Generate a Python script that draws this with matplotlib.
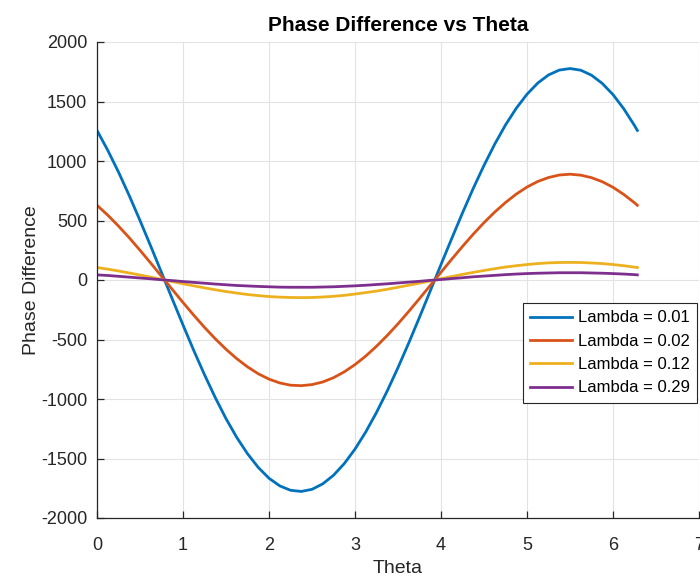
import matplotlib
matplotlib.use("Agg")
import matplotlib.pyplot as plt

plt.rcParams['font.family'] = ['Liberation Sans', 'DejaVu Sans']
plt.rcParams['axes.unicode_minus'] = False

theta = [0, 0.125, 0.25, 0.375, 0.5, 0.625, 0.75, 0.875, 1.0, 1.125, 1.25, 1.375,
         1.5, 1.625, 1.75, 1.875, 2.0, 2.125, 2.25, 2.375, 2.5, 2.625, 2.75, 2.875,
         3.0, 3.125, 3.25, 3.375, 3.5, 3.625, 3.75, 3.875, 4.0, 4.125, 4.25, 4.375,
         4.5, 4.625, 4.75, 4.875, 5.0, 5.125, 5.25, 5.375, 5.5, 5.625, 5.75, 5.875,
         6.0, 6.125, 6.25, 6.283]

lam_001 = [1257, 1090, 907, 709, 500, 284, 63, -159, -378, -592, -796, -988,
           -1165, -1323, -1460, -1575, -1666, -1730, -1767, -1777, -1759, -1713, -1641, -1543,
           -1421, -1277, -1113, -932, -736, -529, -313, -92, 130, 349, 564, 770,
           963, 1142, 1303, 1443, 1561, 1655, 1723, 1764, 1777, 1763, 1721, 1652,
           1558, 1439, 1298, 1257]
lam_002 = [628, 545, 453, 355, 250, 142, 31, -79, -189, -296, -398, -494,
           -582, -661, -730, -788, -833, -865, -884, -888, -879, -857, -821, -772,
           -711, -639, -557, -466, -368, -264, -156, -46, 65, 175, 282, 385,
           482, 571, 651, 722, 781, 828, 861, 882, 889, 881, 860, 826,
           779, 719, 649, 628]
lam_012 = [105, 91, 76, 59, 42, 24, 5, -13, -32, -49, -66, -82,
           -97, -110, -122, -131, -139, -144, -147, -148, -147, -143, -137, -129,
           -118, -106, -93, -78, -61, -44, -26, -8, 11, 29, 47, 64,
           80, 95, 109, 120, 130, 138, 144, 147, 148, 147, 143, 138,
           130, 120, 108, 105]
lam_029 = [43, 38, 31, 24, 17, 10, 2, -5, -13, -20, -27, -34,
           -40, -46, -50, -54, -57, -60, -61, -61, -61, -59, -57, -53,
           -49, -44, -38, -32, -25, -18, -11, -3, 4, 12, 19, 27,
           33, 39, 45, 50, 54, 57, 59, 61, 61, 61, 59, 57,
           54, 50, 45, 43]

series = [lam_001, lam_002, lam_012, lam_029]
labels = ['Lambda = 0.01', 'Lambda = 0.02', 'Lambda = 0.12', 'Lambda = 0.29']
colors = ['#0072BD', '#D95319', '#EDB120', '#7E2F8E']

xticks = [0, 1, 2, 3, 4, 5, 6, 7]
yticks = [-2000, -1500, -1000, -500, 0, 500, 1000, 1500, 2000]

fig = plt.figure(figsize=(7.0, 5.79), dpi=100)
ax = fig.add_axes([97/700, 61/579, 602/700, 476/579])

for ys, lab, c in zip(series, labels, colors):
    ax.plot(theta, ys, color=c, lw=2.0, label=lab)

ax.set_xlim(0, 7)
ax.set_ylim(-2000, 2000)
ax.set_xticks(xticks)
ax.set_yticks(yticks)
ax.grid(True, color='#e3e3e3', lw=0.8)
ax.set_axisbelow(True)
for s in ['top', 'right']:
    ax.spines[s].set_visible(False)
for s in ['left', 'bottom']:
    ax.spines[s].set_color('#262626')
    ax.spines[s].set_linewidth(0.9)
ax.tick_params(direction='in', length=5, width=0.9, colors='#262626', labelsize=13)
ax.tick_params(axis='x', pad=14)
ax.tick_params(axis='y', pad=7)

ax.set_xlabel('Theta', fontsize=14, color='#262626', labelpad=4)
ax.set_ylabel('Phase Difference', fontsize=14, color='#262626', labelpad=1)
ax.set_title('Phase Difference vs Theta', fontsize=15, fontweight='bold', pad=8)

leg = ax.legend(loc='upper right', bbox_to_anchor=(697/700, (579-303)/579),
                bbox_transform=fig.transFigure, fontsize=12, frameon=True,
                fancybox=False, handlelength=2.5, handletextpad=0.35,
                borderpad=0.45, labelspacing=0.5, borderaxespad=0)
leg.get_frame().set_edgecolor('#262626')
leg.get_frame().set_linewidth(0.8)
leg.get_frame().set_alpha(1)

fig.savefig('out.png', dpi=100)
